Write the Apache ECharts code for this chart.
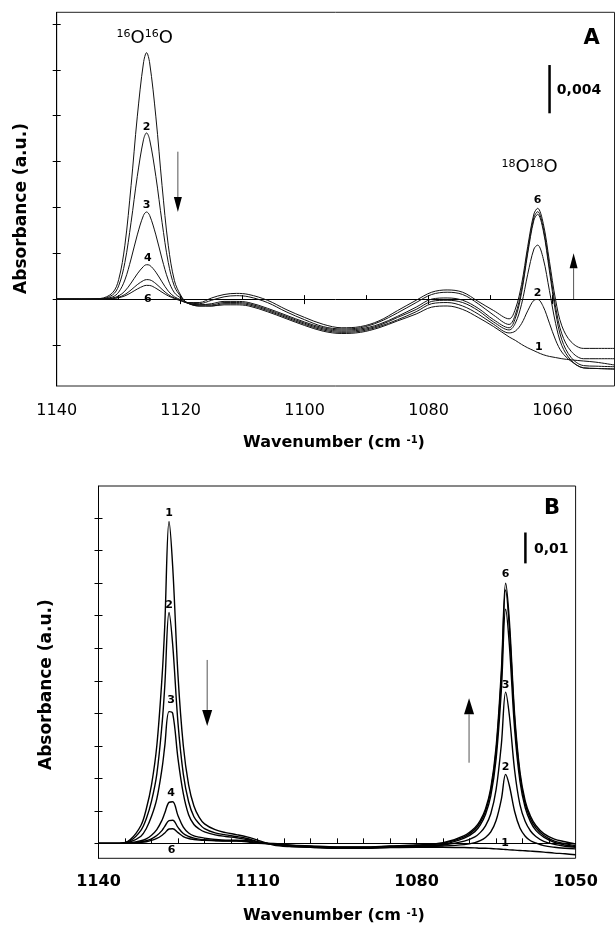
<!DOCTYPE html>
<html>
<head>
<meta charset="utf-8">
<script src="https://cdn.jsdelivr.net/npm/echarts@6/dist/echarts.min.js"></script>
<style>
html, body { margin: 0; padding: 0; background: #fff; }
#container { width: 616px; height: 925px; }
</style>
</head>
<body>
<div id="container"></div>
<script>
(function() {
"use strict";

    // ---- panel A: wavenumber (cm-1) and spectra 1..6 (absorbance x 1000)
    var wnA = [1140, 1136, 1133, 1131, 1130, 1129, 1128, 1127, 1126, 1125.5,
        1125, 1124, 1123, 1122, 1121, 1120, 1119, 1117, 1115, 1113,
        1111, 1109, 1106, 1103, 1100, 1097, 1094, 1091, 1088, 1085,
        1082, 1079.5, 1077, 1074.5, 1072, 1069.5, 1067, 1066, 1065, 1064,
        1063, 1062.4, 1061.5, 1060.5, 1059.5, 1058.5, 1057, 1055, 1053, 1050];
    var specA1 = [0, 0, 0.05, 0.55, 1.7, 4.7, 9.9, 15.9, 20.6, 21.5,
        20.6, 15.9, 9.9, 4.7, 1.6, 0.35, -0.3, -0.6, -0.6, -0.5,
        -0.5, -0.6, -1.1, -1.7, -2.3, -2.8, -3.0, -2.9, -2.5, -1.9,
        -1.3, -0.7, -0.6, -0.9, -1.6, -2.4, -3.3, -3.6, -3.95, -4.25,
        -4.5, -4.65, -4.85, -5.0, -5.1, -5.2, -5.3, -5.4, -5.5, -5.75];
    var specA2 = [0, 0, 0.03, 0.36, 1.16, 3.2, 6.7, 10.7, 13.9, 14.5,
        13.9, 10.7, 6.7, 3.2, 1.1, 0.25, -0.3, -0.6, -0.6, -0.4,
        -0.4, -0.5, -1.0, -1.6, -2.2, -2.7, -2.9, -2.8, -2.4, -1.8,
        -1.1, -0.4, -0.3, -0.6, -1.3, -2.2, -2.95, -2.79, -2.14, -1.02,
        -0.1, -0.03, -0.65, -2.1, -3.58, -4.62, -5.42, -6.0, -6.05, -6.1];
    var specA3 = [0, 0, 0.02, 0.19, 0.61, 1.67, 3.5, 5.6, 7.3, 7.6,
        7.3, 5.6, 3.5, 1.67, 0.55, 0.1, -0.3, -0.5, -0.5, -0.3,
        -0.3, -0.4, -0.9, -1.5, -2.1, -2.6, -2.8, -2.7, -2.3, -1.6,
        -0.9, -0.2, -0.1, -0.3, -1.0, -2.0, -2.69, -2.1, -0.45, 2.17,
        4.37, 4.71, 3.54, 0.74, -2.12, -4.05, -5.34, -6.0, -6.05, -6.1];
    var specA4 = [0, 0, 0.02, 0.1, 0.28, 0.7, 1.4, 2.2, 2.85, 3.0,
        2.95, 2.35, 1.5, 0.7, 0.2, -0.05, -0.35, -0.5, -0.4, -0.2,
        -0.2, -0.3, -0.8, -1.4, -2.0, -2.5, -2.7, -2.6, -2.2, -1.5,
        -0.7, 0.0, 0.1, -0.1, -0.8, -1.8, -2.5, -1.66, 0.54, 3.99,
        6.9, 7.4, 5.99, 2.46, -1.14, -3.55, -5.09, -5.8, -5.85, -5.9];
    var specA5 = [0, 0, 0.02, 0.06, 0.16, 0.4, 0.8, 1.26, 1.62, 1.7,
        1.68, 1.35, 0.85, 0.4, 0.1, -0.1, -0.3, -0.4, -0.1, 0.2,
        0.3, 0.2, -0.3, -1.1, -1.8, -2.4, -2.6, -2.5, -2.0, -1.2,
        -0.3, 0.4, 0.6, 0.4, -0.4, -1.4, -2.21, -1.36, 0.83, 4.25,
        7.14, 7.63, 6.24, 2.81, -0.7, -3.03, -4.55, -5.2, -5.2, -5.2];
    var specA6 = [0, 0, 0.02, 0.05, 0.12, 0.28, 0.56, 0.88, 1.14, 1.2,
        1.19, 0.95, 0.6, 0.28, 0.05, -0.15, -0.3, -0.3, 0.1, 0.4,
        0.5, 0.4, -0.1, -0.9, -1.6, -2.2, -2.5, -2.4, -1.9, -1.0,
        -0.1, 0.6, 0.8, 0.6, -0.2, -1.0, -1.72, -0.87, 1.27, 4.6,
        7.43, 7.92, 6.61, 3.3, -0.08, -2.33, -3.73, -4.3, -4.3, -4.3];

    // ---- panel B: wavenumber (cm-1) and spectra 1..6 (absorbance x 100)
    var wnB = [1140, 1136, 1134, 1132, 1131, 1130, 1129, 1128, 1127.5, 1126.7,
        1126, 1125, 1124, 1123, 1122, 1121, 1120, 1118, 1116, 1114,
        1112, 1110, 1107, 1104, 1100, 1095, 1090, 1085, 1080, 1075,
        1071, 1069, 1068, 1067, 1066, 1065, 1064, 1063.2, 1062.5, 1061.5,
        1060.5, 1059.5, 1058.5, 1057.5, 1056, 1054, 1052, 1050];
    var specB1 = [0, 0, 0.12, 0.55, 1.05, 1.8, 3.0, 5.15, 6.7, 9.9,
        8.5, 5.15, 3.0, 1.8, 1.15, 0.8, 0.6, 0.42, 0.33, 0.27,
        0.2, 0.1, -0.05, -0.1, -0.12, -0.15, -0.14, -0.13, -0.12, -0.12,
        -0.13, -0.14, -0.15, -0.15, -0.16, -0.17, -0.18, -0.19, -0.2, -0.21,
        -0.22, -0.23, -0.24, -0.25, -0.27, -0.3, -0.32, -0.35];
    var specB2 = [0, 0, 0.08, 0.4, 0.75, 1.3, 2.13, 3.69, 4.83, 7.1,
        6.1, 3.69, 2.13, 1.28, 0.82, 0.6, 0.45, 0.32, 0.26, 0.21,
        0.15, 0.05, -0.03, -0.08, -0.12, -0.15, -0.15, -0.12, -0.1, -0.08,
        -0.04, 0.02, 0.08, 0.18, 0.35, 0.7, 1.36, 2.12, 1.78, 0.98,
        0.47, 0.22, 0.08, 0.01, -0.07, -0.12, -0.15, -0.17];
    var specB3 = [0, 0, 0.05, 0.22, 0.45, 0.83, 1.37, 2.32, 2.99, 4.05,
        4.0, 2.6, 1.53, 0.88, 0.58, 0.44, 0.35, 0.26, 0.21, 0.17,
        0.12, 0.04, -0.03, -0.07, -0.11, -0.14, -0.14, -0.11, -0.09, -0.05,
        0.07, 0.2, 0.33, 0.54, 0.91, 1.65, 3.05, 4.65, 3.94, 2.24,
        1.19, 0.67, 0.38, 0.21, 0.06, -0.03, -0.09, -0.12];
    var specB4 = [0, 0, 0.02, 0.08, 0.14, 0.25, 0.42, 0.72, 0.93, 1.26,
        1.28, 0.85, 0.5, 0.32, 0.23, 0.19, 0.16, 0.12, 0.1, 0.1,
        0.08, 0.02, -0.02, -0.07, -0.1, -0.13, -0.13, -0.1, -0.08, -0.03,
        0.16, 0.36, 0.56, 0.89, 1.46, 2.59, 4.73, 7.2, 6.11, 3.5,
        1.91, 1.09, 0.66, 0.4, 0.19, 0.03, -0.05, -0.1];
    var specB5 = [0, 0, 0.01, 0.05, 0.08, 0.14, 0.24, 0.4, 0.52, 0.7,
        0.71, 0.49, 0.3, 0.21, 0.16, 0.13, 0.11, 0.09, 0.08, 0.08,
        0.06, 0.0, -0.01, -0.06, -0.09, -0.12, -0.12, -0.09, -0.06, 0.0,
        0.2, 0.43, 0.64, 0.99, 1.61, 2.83, 5.15, 7.79, 6.64, 3.81,
        2.09, 1.21, 0.75, 0.48, 0.24, 0.07, -0.01, -0.07];
    var specB6 = [0, 0, 0.0, 0.03, 0.05, 0.09, 0.15, 0.25, 0.32, 0.44,
        0.45, 0.33, 0.21, 0.15, 0.12, 0.1, 0.09, 0.08, 0.07, 0.07,
        0.05, 0.0, 0.0, -0.05, -0.08, -0.11, -0.11, -0.08, -0.05, 0.02,
        0.24, 0.48, 0.7, 1.06, 1.7, 2.96, 5.33, 8.0, 6.86, 3.96,
        2.2, 1.3, 0.83, 0.55, 0.3, 0.13, 0.05, -0.02];

    // axis ticks
    var labelTicksA = [1140, 1120, 1100, 1080, 1060];
    var minorTicksA = [1140, 1130, 1120, 1110, 1100, 1090, 1080, 1070, 1060];
    var yTicksA = [-4, 0, 4, 8, 12, 16, 20, 24];
    var labelTicksB = [1140, 1110, 1080, 1050];
    var minorTicksB = [1135, 1130, 1125, 1120, 1115, 1110, 1105, 1100, 1095, 1090,
        1085, 1080, 1075, 1070, 1065, 1060, 1055];
    var yTicksB = [0, 1, 2, 3, 4, 5, 6, 7, 8, 9, 10];

    // curve numbers [text, wavenumber, value]
    var numbersA = [['2', 1125.5, 15.0], ['3', 1125.5, 8.2], ['4', 1125.3, 3.6], ['6', 1125.3, 0.0],
        ['6', 1062.4, 8.65], ['2', 1062.4, 0.55], ['1', 1062.2, -4.15]];
    var numbersB = [['1', 1126.7, 10.15], ['2', 1126.7, 7.33], ['3', 1126.3, 4.41], ['4', 1126.3, 1.54],
        ['6', 1126.2, -0.21], ['6', 1063.2, 8.29], ['3', 1063.2, 4.87], ['2', 1063.2, 2.34], ['1', 1063.3, 0.02]];

    var dom = document.getElementById('container');
    var myChart = echarts.init(dom, null, {renderer: 'canvas'});

    function pairs(xs, ys) {
        return xs.map(function(x, i) { return [x, ys[i]]; });
    }
    function plain(v) { return String(v); }

    var font = 'DejaVu Sans';
    var seriesList = [];
    [specA1, specA2, specA3, specA4, specA5, specA6].forEach(function(s, i) {
        seriesList.push({
            name: 'A' + (i + 1), type: 'line', xAxisIndex: 0, yAxisIndex: 0,
            data: pairs(wnA, s), showSymbol: false, smooth: 0.35, silent: true,
            lineStyle: {color: '#111', width: 1}
        });
    });
    [specB1, specB2, specB3, specB4, specB5, specB6].forEach(function(s, i) {
        seriesList.push({
            name: 'B' + (i + 1), type: 'line', xAxisIndex: 2, yAxisIndex: 2,
            data: pairs(wnB, s), showSymbol: false, smooth: 0.35, silent: true,
            lineStyle: {color: '#000', width: 1.4}
        });
    });

    function xAxisBase(grid, min, max) {
        return {
            type: 'value', gridIndex: grid, inverse: true, min: min, max: max,
            position: 'bottom', splitLine: {show: false},
            axisLine: {show: true, lineStyle: {color: '#000', width: 1}}
        };
    }
    function yAxisBase(grid, min, max) {
        return {
            type: 'value', gridIndex: grid, min: min, max: max, position: 'left',
            splitLine: {show: false}, axisLabel: {show: false},
            axisLine: {show: true, lineStyle: {color: '#000', width: 1}}
        };
    }

    var xA0 = xAxisBase(0, 1050, 1140);
    xA0.axisTick = {show: true, inside: false, length: 5, customValues: labelTicksA, lineStyle: {color: '#000'}};
    xA0.axisLabel = {show: true, customValues: labelTicksA, margin: 17, color: '#000',
        fontFamily: font, fontSize: 16, formatter: plain};
    var xA1 = xAxisBase(0, 1050, 1140);
    xA1.axisLine = {show: false};
    xA1.axisTick = {show: true, inside: true, length: 4, customValues: minorTicksA, lineStyle: {color: '#000'}};
    xA1.axisLabel = {show: false};
    var xB0 = xAxisBase(1, 1050, 1140);
    xB0.axisTick = {show: true, inside: true, length: 5, customValues: minorTicksB, lineStyle: {color: '#000'}};
    xB0.axisLabel = {show: true, customValues: labelTicksB, margin: 16, color: '#000',
        fontFamily: font, fontSize: 16, fontWeight: 'bold', formatter: plain};

    var yA0 = yAxisBase(0, -7.58, 25.02);
    yA0.axisTick = {show: true, inside: false, length: 4, customValues: yTicksA, lineStyle: {color: '#000'}};
    var yA1 = yAxisBase(0, -7.58, 25.02);
    yA1.axisLine = {show: false};
    yA1.axisTick = {show: true, inside: true, length: 4, customValues: yTicksA, lineStyle: {color: '#000'}};
    var yB0 = yAxisBase(1, -0.46, 10.99);
    yB0.axisTick = {show: true, inside: false, length: 4, customValues: yTicksB, lineStyle: {color: '#000'}};
    var yB1 = yAxisBase(1, -0.46, 10.99);
    yB1.axisLine = {show: false};
    yB1.axisTick = {show: true, inside: true, length: 4, customValues: yTicksB, lineStyle: {color: '#000'}};

    var option = {
        backgroundColor: '#fff',
        animation: false,
        legend: {show: false},
        tooltip: {show: false},
        grid: [
            {left: 56.7, top: 12.3, width: 557.8, height: 373.7, show: true,
                borderColor: '#222', borderWidth: 1, containLabel: false, outerBoundsMode: 'none'},
            {left: 98.5, top: 486, width: 477.1, height: 372.3, show: true,
                borderColor: '#111', borderWidth: 1, containLabel: false, outerBoundsMode: 'none'}
        ],
        xAxis: [xA0, xA1, xB0],
        yAxis: [yA0, yA1, yB0, yB1],
        series: seriesList
    };
    myChart.setOption(option, true);

    // annotations placed in data coordinates
    function px(panel, x, y) {
        var idx = panel === 'A' ? {xAxisIndex: 0, yAxisIndex: 0} : {xAxisIndex: 2, yAxisIndex: 2};
        return myChart.convertToPixel(idx, [x, y]);
    }
    function numberText(panel, n) {
        var p = px(panel, n[1], n[2]);
        return {type: 'text', x: p[0], y: p[1], silent: true,
            style: {text: n[0], fill: '#000', fontFamily: font, fontSize: 11, fontWeight: 'bold',
                align: 'center', verticalAlign: 'middle'}};
    }
    function arrow(panel, x, yFrom, yTo, head, half) {
        var a = px(panel, x, yFrom), b = px(panel, x, yTo);
        var dir = b[1] > a[1] ? 1 : -1;
        return [
            {type: 'line', silent: true, shape: {x1: a[0], y1: a[1], x2: b[0], y2: b[1] - dir * head},
                style: {stroke: '#555', lineWidth: 1}},
            {type: 'polygon', silent: true,
                shape: {points: [[b[0], b[1]], [b[0] - half, b[1] - dir * head], [b[0] + half, b[1] - dir * head]]},
                style: {fill: '#000'}}
        ];
    }
    function scaleBar(panel, x, y1, y2, label, lx, ly) {
        var a = px(panel, x, y1), b = px(panel, x, y2), t = px(panel, lx, ly);
        return [
            {type: 'line', silent: true, shape: {x1: a[0], y1: a[1], x2: b[0], y2: b[1]},
                style: {stroke: '#000', lineWidth: 2.5}},
            {type: 'text', silent: true, x: t[0], y: t[1],
                style: {text: label, fill: '#000', fontFamily: font, fontSize: 14, fontWeight: 'bold',
                    align: 'left', verticalAlign: 'middle'}}
        ];
    }
    function isotope(panel, mass, x, y) {
        var p = px(panel, x, y);
        return {type: 'text', silent: true, x: p[0], y: p[1],
            style: {text: '{s|' + mass + '}{o|O}{s|' + mass + '}{o|O}', align: 'center', verticalAlign: 'middle',
                rich: {
                    s: {fontFamily: font, fontSize: 11, fill: '#000', verticalAlign: 'top'},
                    o: {fontFamily: font, fontSize: 18, fill: '#000', verticalAlign: 'bottom'}
                }}};
    }
    function panelLetter(panel, letter, x, y) {
        var p = px(panel, x, y);
        return {type: 'text', silent: true, x: p[0], y: p[1],
            style: {text: letter, fill: '#000', fontFamily: font, fontSize: 21, fontWeight: 'bold',
                align: 'center', verticalAlign: 'middle'}};
    }
    function xTitle(y) {
        return {type: 'text', silent: true, x: 334, y: y,
            style: {text: '{t|Wavenumber (cm }{s|-1}{t|)}', align: 'center', verticalAlign: 'middle',
                rich: {
                    t: {fontFamily: font, fontSize: 16, fontWeight: 'bold', fill: '#000', verticalAlign: 'bottom'},
                    s: {fontFamily: font, fontSize: 10, fontWeight: 'bold', fill: '#000', verticalAlign: 'top'}
                }}};
    }
    function yTitle(x, y) {
        return {type: 'text', silent: true, x: x, y: y, rotation: Math.PI / 2,
            style: {text: 'Absorbance (a.u.)', fill: '#000', fontFamily: font, fontSize: 17, fontWeight: 'bold',
                align: 'center', verticalAlign: 'middle'}};
    }

    var els = [];
    numbersA.forEach(function(n) { els.push(numberText('A', n)); });
    numbersB.forEach(function(n) { els.push(numberText('B', n)); });
    els = els.concat(arrow('A', 1120.45, 12.86, 7.6, 15, 4));
    els = els.concat(arrow('A', 1056.6, -0.08, 4.0, 15, 4));
    els = els.concat(arrow('B', 1119.5, 5.64, 3.61, 16, 5));
    els = els.concat(arrow('B', 1070.1, 2.48, 4.46, 16, 5));
    els = els.concat(scaleBar('A', 1060.48, 20.42, 16.21, '0,004', 1059.3, 18.24));
    els = els.concat(scaleBar('B', 1059.47, 9.56, 8.61, '0,01', 1057.85, 9.04));
    els.push(isotope('A', '16', 1125.8, 22.78));
    els.push(isotope('A', '18', 1063.7, 11.5));
    els.push(panelLetter('A', 'A', 1053.7, 22.69));
    els.push(panelLetter('B', 'B', 1054.45, 10.29));
    els.push(xTitle(443));
    els.push(xTitle(916));
    els.push(yTitle(21.6, 208.5));
    els.push(yTitle(46.5, 684.6));

    myChart.setOption({graphic: {elements: els}});

})();
</script>
</body>
</html>
